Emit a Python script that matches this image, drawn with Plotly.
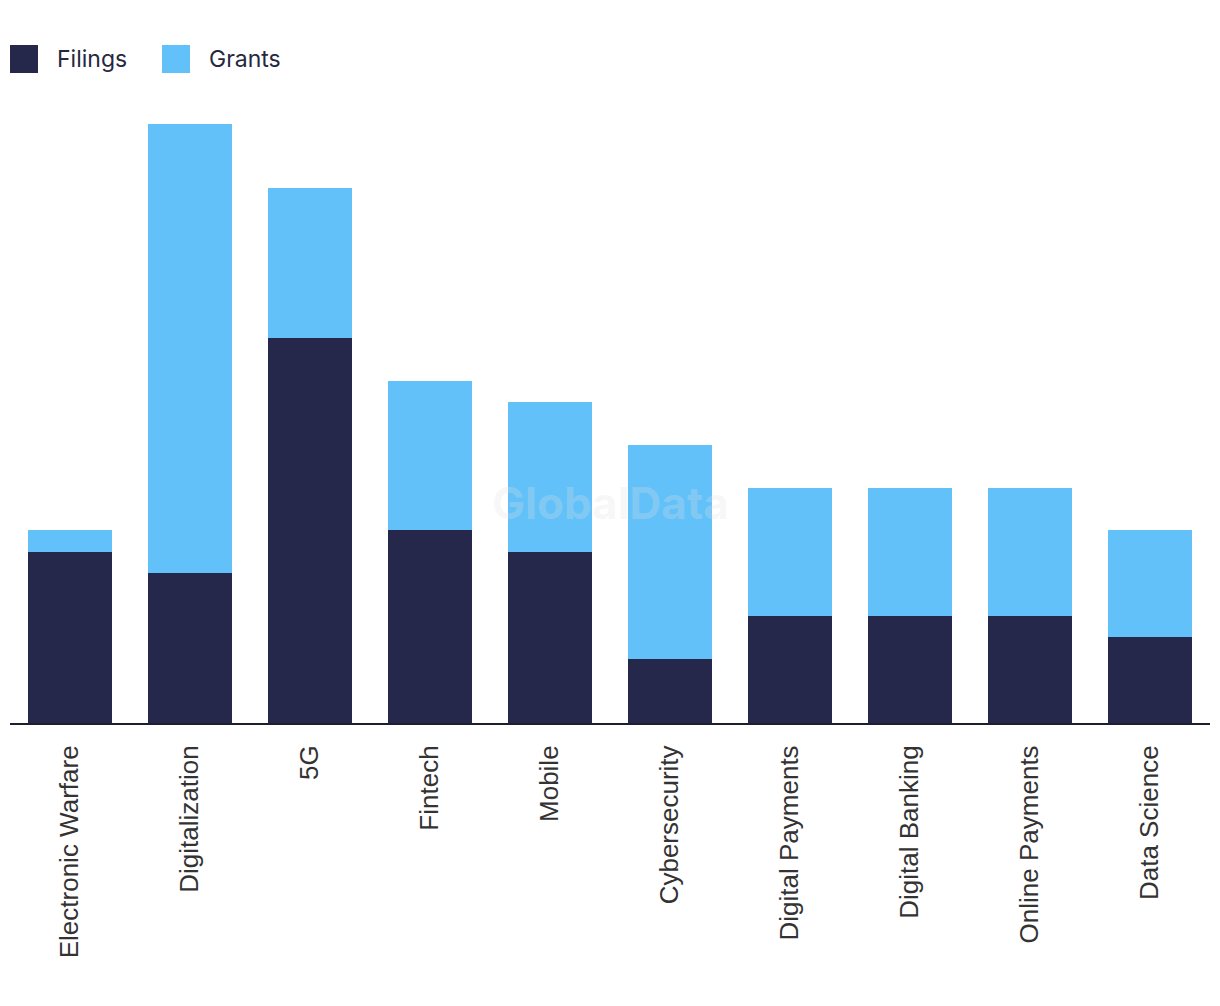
import plotly.graph_objects as go

categories = ["Electronic Warfare", "Digitalization", "5G", "Fintech", "Mobile",
              "Cybersecurity", "Digital Payments", "Digital Banking", "Online Payments", "Data Science"]
filings = [8, 7, 18, 9, 8, 3, 5, 5, 5, 4]
grants = [1, 21, 7, 7, 7, 10, 6, 6, 6, 5]

C_FIL = "#26284B"
C_GRA = "#62C1F9"

fig = go.Figure()
fig.add_trace(go.Bar(x=categories, y=filings, name="Filings", marker_color=C_FIL, marker_line_width=0))
fig.add_trace(go.Bar(x=categories, y=grants, name="Grants", marker_color=C_GRA, marker_line_width=0))

fig.update_layout(
    barmode="stack",
    bargap=0.3,
    width=1220, height=1006,
    margin=dict(l=2, r=18, t=92, b=291),
    plot_bgcolor="white", paper_bgcolor="white",
    showlegend=False,
    font=dict(family="Liberation Sans, Arial", color="#333333"),
)
fig.update_xaxes(
    tickangle=-90, tickfont=dict(size=26, color="#333333", family="Liberation Sans, Arial"),
    showline=True, linecolor="#1E1E30", linewidth=2, ticks="", ticklabelstandoff=10,
    showgrid=False,
)
fig.update_yaxes(range=[0, 29.12], visible=False, showgrid=False)

# custom legend
leg = [("Filings", C_FIL, 10, 55), ("Grants", C_GRA, 162, 207)]
for name, col, x0, tx in leg:
    fig.add_shape(type="rect", xref="paper", yref="paper",
                  x0=(x0 - 10) / 1200, x1=(x0 + 28 - 10) / 1200,
                  y0=(723 - 73) / 623, y1=(723 - 45) / 623,
                  fillcolor=col, line_width=0)
    fig.add_annotation(text=name, xref="paper", yref="paper",
                       x=(tx - 10) / 1200, y=(723 - 59) / 623, xanchor="left", yanchor="middle",
                       showarrow=False, font=dict(family="Inter", size=23, color="#262840"))

fig.add_annotation(text="<b>GlobalData</b>", xref="paper", yref="paper",
                   x=(610 - 10) / 1200, y=(723 - 503) / 623, showarrow=False,
                   font=dict(family="Inter", size=44, color="rgba(225,225,225,0.25)"))

fig.write_html("out.html")
